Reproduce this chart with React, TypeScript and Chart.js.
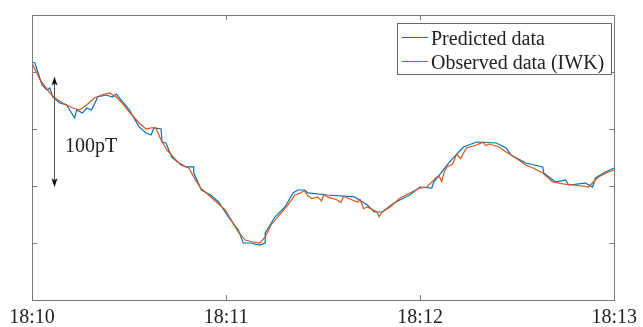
import React, { useEffect, useRef } from 'react';
import { Chart, registerables } from 'chart.js';

Chart.register(...registerables);

// Time in seconds after 18:10, values in pT
const predictedTime = [0.0, 0.9, 3.1, 4.6, 5.5, 6.4, 8.6, 10.7, 13.2, 13.8, 15.6, 16.9, 18.4, 19.9, 20.2, 23.0, 24.8, 26.1, 27.6, 30.1, 33.1, 35.3, 36.8, 37.7, 39.9, 40.2, 41.4, 43.2, 45.4, 47.8, 50.0, 50.0, 52.4, 55.2, 57.7, 60.7, 63.8, 65.3, 67.5, 70.5, 72.1, 72.1, 75.1, 78.2, 80.7, 82.2, 84.3, 85.3, 91.4, 99.7, 103.7, 105.8, 108.3, 111.9, 116.8, 119.9, 123.6, 124.2, 129.1, 133.4, 137.4, 143.5, 146.6, 148.1, 152.7, 157.9, 158.2, 161.9, 165.0, 165.9, 171.1, 173.3, 174.2, 177.3, 180.0];
const predictedValue = [208.8, 207.9, 188.6, 184.2, 186.0, 178.1, 172.8, 171.1, 159.6, 166.7, 164.0, 168.4, 166.7, 175.4, 178.1, 179.8, 178.1, 180.7, 175.4, 166.7, 151.8, 146.5, 144.7, 150.9, 150.0, 138.6, 137.7, 125.4, 120.2, 116.7, 116.7, 111.4, 96.5, 92.1, 86.0, 72.8, 61.4, 50.0, 50.0, 48.2, 50.0, 58.8, 72.8, 81.6, 93.9, 96.5, 96.5, 93.9, 92.1, 90.4, 83.3, 77.2, 77.2, 85.1, 92.1, 99.1, 98.2, 103.5, 121.1, 134.2, 138.6, 137.7, 133.3, 127.2, 120.2, 116.7, 111.4, 103.5, 105.3, 100.9, 102.6, 99.1, 107.0, 112.3, 115.8];

const observedTime = [0.0, 2.5, 5.5, 7.1, 9.5, 12.6, 14.7, 16.9, 19.3, 21.5, 23.9, 26.1, 27.9, 30.1, 33.1, 35.3, 36.8, 38.3, 39.9, 41.7, 43.9, 46.0, 48.5, 50.0, 52.1, 54.6, 57.0, 59.8, 61.6, 63.8, 65.9, 68.4, 70.5, 72.1, 73.9, 77.0, 79.1, 81.3, 83.1, 84.2, 85.3, 86.5, 88.3, 89.5, 90.2, 91.4, 94.4, 95.5, 96.3, 97.5, 100.6, 101.5, 102.5, 103.7, 106.7, 107.3, 108.3, 110.7, 113.8, 116.8, 119.9, 122.1, 125.1, 126.0, 126.7, 127.4, 128.2, 130.0, 131.3, 132.5, 134.3, 137.4, 139.5, 140.2, 141.4, 144.4, 146.6, 149.6, 152.7, 154.9, 157.9, 161.0, 164.1, 167.1, 170.2, 172.0, 175.1, 178.2, 180.0];
const observedValue = [207.9, 193.0, 181.6, 177.2, 172.8, 168.4, 166.7, 171.1, 177.2, 179.8, 181.6, 178.1, 172.8, 164.9, 155.3, 150.0, 150.9, 150.9, 140.4, 131.6, 124.6, 118.4, 115.8, 107.9, 98.2, 92.1, 86.0, 78.9, 70.2, 59.6, 52.6, 50.9, 50.0, 55.3, 65.8, 76.3, 83.3, 92.1, 93.9, 96.0, 91.2, 89.0, 90.4, 87.0, 92.5, 90.4, 87.7, 85.5, 91.0, 89.5, 86.0, 88.0, 80.0, 81.6, 77.2, 73.0, 77.2, 81.6, 89.5, 93.9, 98.2, 99.1, 107.9, 108.0, 104.0, 112.0, 116.7, 119.0, 128.0, 124.0, 133.3, 136.0, 138.5, 135.5, 136.8, 134.2, 129.8, 124.6, 118.4, 115.8, 111.4, 103.5, 101.8, 100.9, 100.0, 99.1, 107.9, 112.3, 114.0];

const xTickValues = [0, 60, 120, 180];
const xTickLabels = ['18:10', '18:11', '18:12', '18:13'];
const yTickValues = [50, 100, 150, 200];
const seriesNames = ['Predicted data', 'Observed data (IWK)'];
const annotationText = '100pT';
const arrowTime = 6.9;
const arrowTop = 196;
const arrowBottom = 99;

const FONT = "'Liberation Serif', 'Times New Roman', serif";
const BLUE = '#0072BD';
const ORANGE = '#D95319';
const AXIS = '#7a7a7a';
const TEXT = '#222222';

export default function App() {
  const ref = useRef<HTMLCanvasElement>(null);

  useEffect(() => {
    document.body.style.margin = '0';
    const canvas = ref.current;
    if (!canvas) return;

    const overlay = {
      id: 'overlay',
      afterDraw(chart: any) {
        const { ctx, chartArea } = chart;
        const xs = chart.scales.x;
        const ys = chart.scales.y;
        const { left, right, top, bottom } = chartArea;
        ctx.save();
        // frame
        ctx.strokeStyle = AXIS;
        ctx.lineWidth = 1;
        ctx.strokeRect(Math.round(left) + 0.5, Math.round(top) + 0.5, Math.round(right - left), Math.round(bottom - top));
        // inward ticks
        const tl = 5;
        ctx.beginPath();
        for (const v of xTickValues) {
          const px = Math.round(xs.getPixelForValue(v)) + 0.5;
          ctx.moveTo(px, bottom);
          ctx.lineTo(px, bottom - tl);
          ctx.moveTo(px, top);
          ctx.lineTo(px, top + tl);
        }
        for (const v of yTickValues) {
          const py = Math.round(ys.getPixelForValue(v)) + 0.5;
          ctx.moveTo(left, py);
          ctx.lineTo(left + tl, py);
          ctx.moveTo(right, py);
          ctx.lineTo(right - tl, py);
        }
        ctx.stroke();

        // legend
        const lx0 = 397.5, ly0 = 23.5, lx1 = 611.5, ly1 = 74.5;
        ctx.fillStyle = '#ffffff';
        ctx.fillRect(lx0, ly0, lx1 - lx0, ly1 - ly0);
        ctx.strokeStyle = '#6a6a6a';
        ctx.strokeRect(lx0, ly0, lx1 - lx0, ly1 - ly0);
        const rows = [
          { name: seriesNames[0], color: BLUE, ly: 37.5, base: 45 },
          { name: seriesNames[1], color: ORANGE, ly: 61.5, base: 68.5 },
        ];
        ctx.font = `20px ${FONT}`;
        ctx.textBaseline = 'alphabetic';
        ctx.textAlign = 'left';
        for (const r of rows) {
          ctx.strokeStyle = r.color;
          ctx.beginPath();
          ctx.moveTo(402, r.ly);
          ctx.lineTo(428, r.ly);
          ctx.stroke();
          ctx.fillStyle = TEXT;
          ctx.fillText(r.name, 431, r.base);
        }

        // arrow annotation
        const ax = Math.round(xs.getPixelForValue(arrowTime)) + 0.5;
        const ay0 = ys.getPixelForValue(arrowTop);
        const ay1 = ys.getPixelForValue(arrowBottom);
        ctx.strokeStyle = '#555555';
        ctx.beginPath();
        ctx.moveTo(ax, ay0 + 6);
        ctx.lineTo(ax, ay1 - 6);
        ctx.stroke();
        ctx.fillStyle = '#111111';
        ctx.beginPath();
        ctx.moveTo(ax, ay0);
        ctx.lineTo(ax - 3, ay0 + 9);
        ctx.lineTo(ax, ay0 + 7);
        ctx.lineTo(ax + 3, ay0 + 9);
        ctx.closePath();
        ctx.fill();
        ctx.beginPath();
        ctx.moveTo(ax, ay1);
        ctx.lineTo(ax - 3, ay1 - 9);
        ctx.lineTo(ax, ay1 - 7);
        ctx.lineTo(ax + 3, ay1 - 9);
        ctx.closePath();
        ctx.fill();
        ctx.fillStyle = TEXT;
        ctx.font = `20px ${FONT}`;
        ctx.fillText(annotationText, 65, 151.5);
        ctx.restore();
      },
    };

    const chart = new Chart(canvas, {
      type: 'line',
      data: {
        datasets: [
          {
            label: seriesNames[0],
            data: predictedTime.map((t, i) => ({ x: t, y: predictedValue[i] })),
            borderColor: BLUE,
            borderWidth: 1.2,
            pointRadius: 0,
            tension: 0,
            fill: false,
            order: 1,
          },
          {
            label: seriesNames[1],
            data: observedTime.map((t, i) => ({ x: t, y: observedValue[i] })),
            borderColor: ORANGE,
            borderWidth: 1.2,
            pointRadius: 0,
            tension: 0,
            fill: false,
            order: 0,
          },
        ],
      },
      options: {
        responsive: false,
        animation: false,
        devicePixelRatio: 1,
        layout: { padding: { left: 32, right: 24, top: 15, bottom: 0 } },
        plugins: { legend: { display: false }, tooltip: { enabled: false } },
        scales: {
          x: {
            type: 'linear',
            min: 0,
            max: 180,
            grid: { display: false, drawTicks: false },
            border: { display: false },
            afterBuildTicks: (s: any) => {
              s.ticks = xTickValues.map((v) => ({ value: v }));
            },
            afterFit: (s: any) => {
              s.height = 27;
            },
            ticks: {
              autoSkip: false,
              maxRotation: 0,
              padding: 6,
              color: TEXT,
              font: { family: FONT, size: 20 },
              callback: (v: any) => {
                const i = xTickValues.indexOf(Number(v));
                return i >= 0 ? xTickLabels[i] : '';
              },
            },
          },
          y: {
            type: 'linear',
            min: 0,
            max: 250,
            display: false,
          },
        },
      },
      plugins: [overlay],
    } as any);

    return () => chart.destroy();
  }, []);

  return (
    <div style={{ width: 643, height: 327 }}>
      <canvas ref={ref} width={643} height={327} style={{ display: 'block' }} />
    </div>
  );
}
